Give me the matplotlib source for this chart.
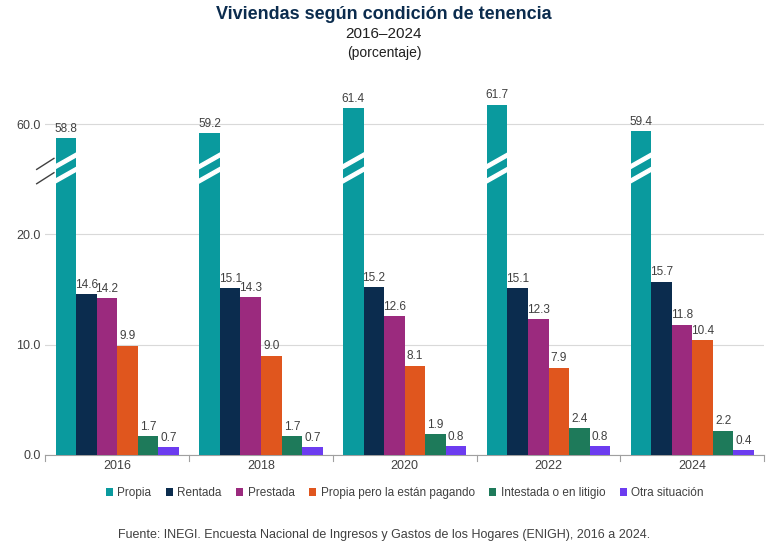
import matplotlib.pyplot as plt
import numpy as np
from matplotlib.patches import Polygon

years = ["2016", "2018", "2020", "2022", "2024"]
series = ["Propia", "Rentada", "Prestada", "Propia pero la están pagando",
          "Intestada o en litigio", "Otra situación"]
propia = [58.8, 59.2, 61.4, 61.7, 59.4]
rentada = [14.6, 15.1, 15.2, 15.1, 15.7]
prestada = [14.2, 14.3, 12.6, 12.3, 11.8]
pagando = [9.9, 9.0, 8.1, 7.9, 10.4]
intestada = [1.7, 1.7, 1.9, 2.4, 2.2]
otra = [0.7, 0.7, 0.8, 0.8, 0.4]
values = [propia, rentada, prestada, pagando, intestada, otra]
colors = ["#0A9A9E", "#0B2C4E", "#9B2A7E", "#E0561E", "#1E7A5A", "#6C3CF0"]


def brk(v):
    # broken axis: linear up to 20, upper part centred on 60
    v = np.asarray(v, dtype=float)
    return np.where(v <= 20, v, 30 + (v - 60) * 1.05)


plt.rcParams['font.family'] = ['Liberation Sans', 'DejaVu Sans']
fig = plt.figure(figsize=(7.68, 5.46), dpi=100)
ax = fig.add_axes([0.059, 0.167, 0.936, 0.66])

x = np.arange(len(years))
w = 0.143
for i, (vals, c) in enumerate(zip(values, colors)):
    pos = x - 2.5 * w + i * w
    h = brk(vals)
    ax.bar(pos, h, w, color=c, label=series[i], zorder=3)
    for p, hh, v in zip(pos, h, vals):
        ax.text(p, hh + 0.3, f"{v:.1f}", ha="center", va="bottom",
                fontsize=8.5, color="#404040", zorder=4)
    if i == 0:
        for p in pos:
            for y0 in (24.6, 25.9):
                poly = Polygon([[p - w / 2 - 0.01, y0], [p + w / 2 + 0.01, y0 + 1.2],
                                [p + w / 2 + 0.01, y0 + 1.55], [p - w / 2 - 0.01, y0 + 0.35]],
                               closed=True, color="white", zorder=4)
                ax.add_patch(poly)

# break mark on the axis
for y0 in (24.6, 25.9):
    ax.plot([-0.56, -0.44], [y0, y0 + 1.0], color="#404040", lw=1, clip_on=False, zorder=5)

ax.set_ylim(0, 32.7)
ax.set_xlim(-0.5, 4.5)
ax.set_yticks([0, 10, 20, 30])
ax.set_yticklabels(["0.0", "10.0", "20.0", "60.0"], fontsize=9, color="#404040")
ax.set_xticks(x)
ax.set_xticklabels(years, fontsize=9, color="#404040")
ax.tick_params(axis="x", length=0)
ax.tick_params(axis="y", length=0)
ax.grid(axis="y", color="#D9D9D9", lw=0.8, zorder=0)
for s in ["top", "right", "left"]:
    ax.spines[s].set_visible(False)
ax.spines["bottom"].set_color("#A0A0A0")
for b in np.arange(-0.5, 5, 1):
    ax.plot([b, b], [0, -0.6], color="#A0A0A0", lw=0.8, clip_on=False)

ax.legend(loc="upper center", bbox_to_anchor=(0.5, -0.06), ncol=6, frameon=False,
          fontsize=8.5, handlelength=0.6, handleheight=0.6, columnspacing=1.2,
          handletextpad=0.4, labelcolor="#404040")

fig.text(0.5, 0.965, "Viviendas según condición de tenencia", ha="center",
         fontsize=13, fontweight="bold", color="#0B2C4E")
fig.text(0.5, 0.93, "2016–2024", ha="center", fontsize=11, color="#202020")
fig.text(0.5, 0.895, "(porcentaje)", ha="center", fontsize=10, color="#202020")
fig.text(0.5, 0.015, "Fuente: INEGI. Encuesta Nacional de Ingresos y Gastos de los Hogares (ENIGH), 2016 a 2024.",
         ha="center", fontsize=9, color="#404040")

fig.savefig("out.png", dpi=100)
